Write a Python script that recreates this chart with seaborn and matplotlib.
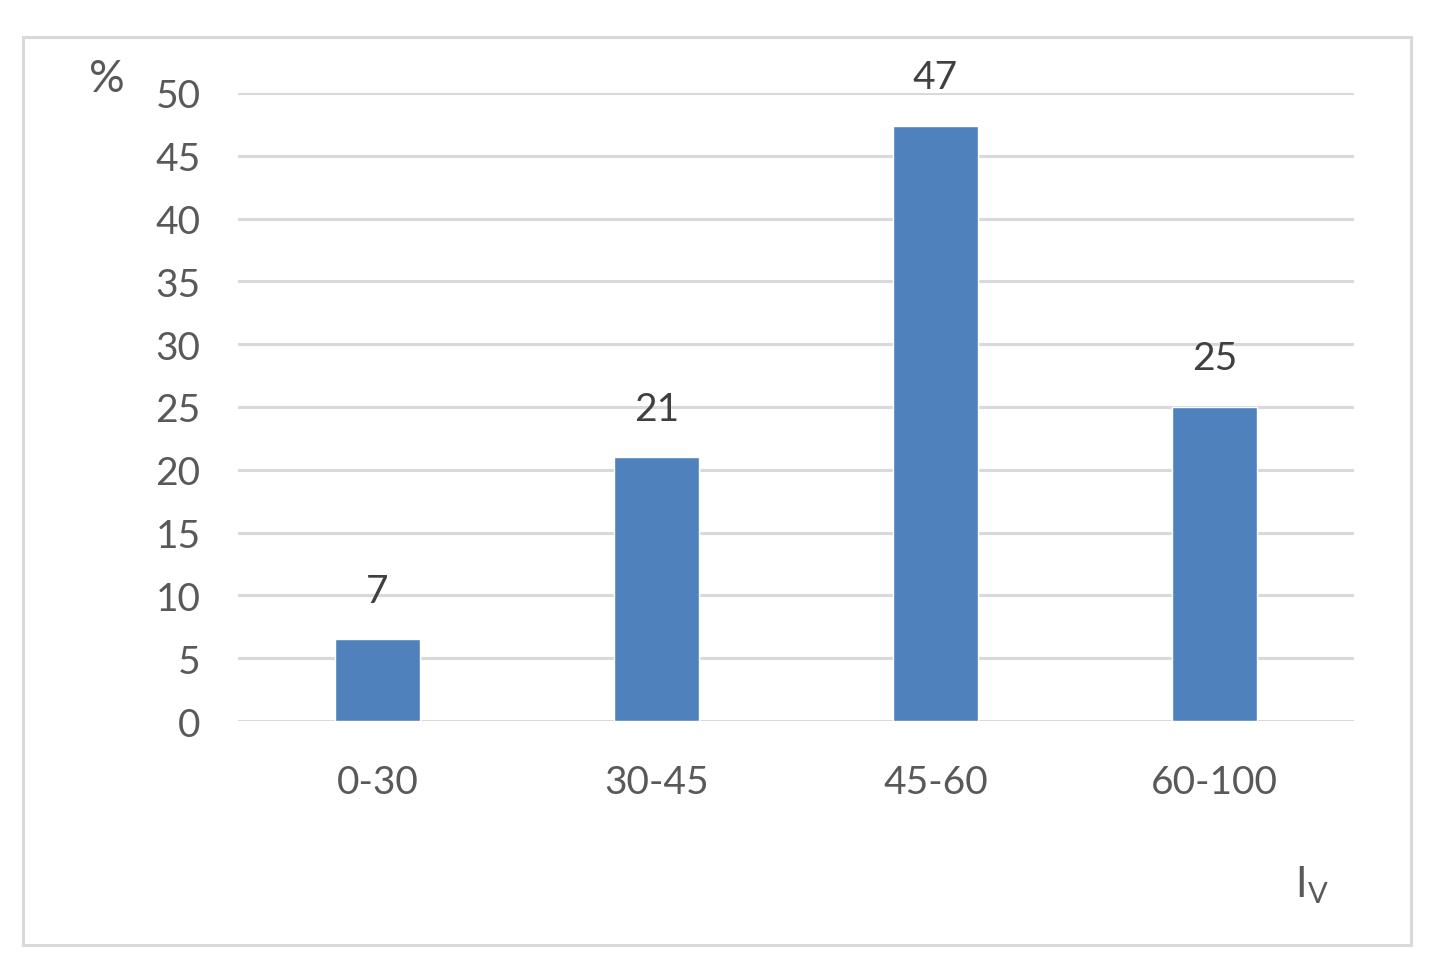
import matplotlib
matplotlib.use("Agg")
import matplotlib.pyplot as plt
import matplotlib.patches as patches
import seaborn as sns
import pandas as pd

# Données
categories = ["0-30", "30-45", "45-60", "60-100"]
values = [6.5, 21, 47.4, 25]
labels = ["7", "21", "47", "25"]
y_ticks = [0, 5, 10, 15, 20, 25, 30, 35, 40, 45, 50]

sns.set_style("white")
plt.rcParams['font.family'] = ['Lato', 'DejaVu Sans']

df = pd.DataFrame({'classe': categories, 'pct': values})

fig = plt.figure(figsize=(14.4, 9.79), dpi=100)
ax = fig.add_axes([0.1653, 0.2625, 0.775, 0.6415])

sns.barplot(data=df, x='classe', y='pct', color='#4F81BD', saturation=1,
            width=0.305, ax=ax, zorder=3)

ax.set_ylim(0, 50)
ax.set_xlim(-0.5, 3.5)
ax.set_yticks(y_ticks)
ax.yaxis.grid(True, color='#d9d9d9', linewidth=2.2, zorder=0)
ax.set_axisbelow(True)
for s in ax.spines.values():
    s.set_visible(False)
ax.tick_params(axis='both', length=0, labelsize=28, labelcolor='#595959')
ax.tick_params(axis='y', pad=27)
ax.tick_params(axis='x', pad=31)
ax.set_xlabel('')
ax.set_ylabel('')

# Étiquettes de données
for i, (v, lab) in enumerate(zip(values, labels)):
    ax.annotate(lab, (i, v), xytext=(0, 35), textcoords='offset points',
                ha='center', va='center', fontsize=28, color='#404040')

# Unités des axes
fig.text(107 / 1440, 1 - 80 / 979, '%', ha='center', va='center',
         fontsize=32, color='#595959')
fig.text(1312 / 1440, 1 - 885 / 979, r'$\mathregular{I_V}$', ha='center',
         va='center', fontsize=30, color='#595959')

# Cadre extérieur
fig.patches.append(patches.Rectangle((23 / 1440, 33 / 979), 1388 / 1440, 908 / 979,
                                     transform=fig.transFigure, fill=False,
                                     edgecolor='#d9d9d9', linewidth=2.2))

fig.savefig('out.png', dpi=100)
